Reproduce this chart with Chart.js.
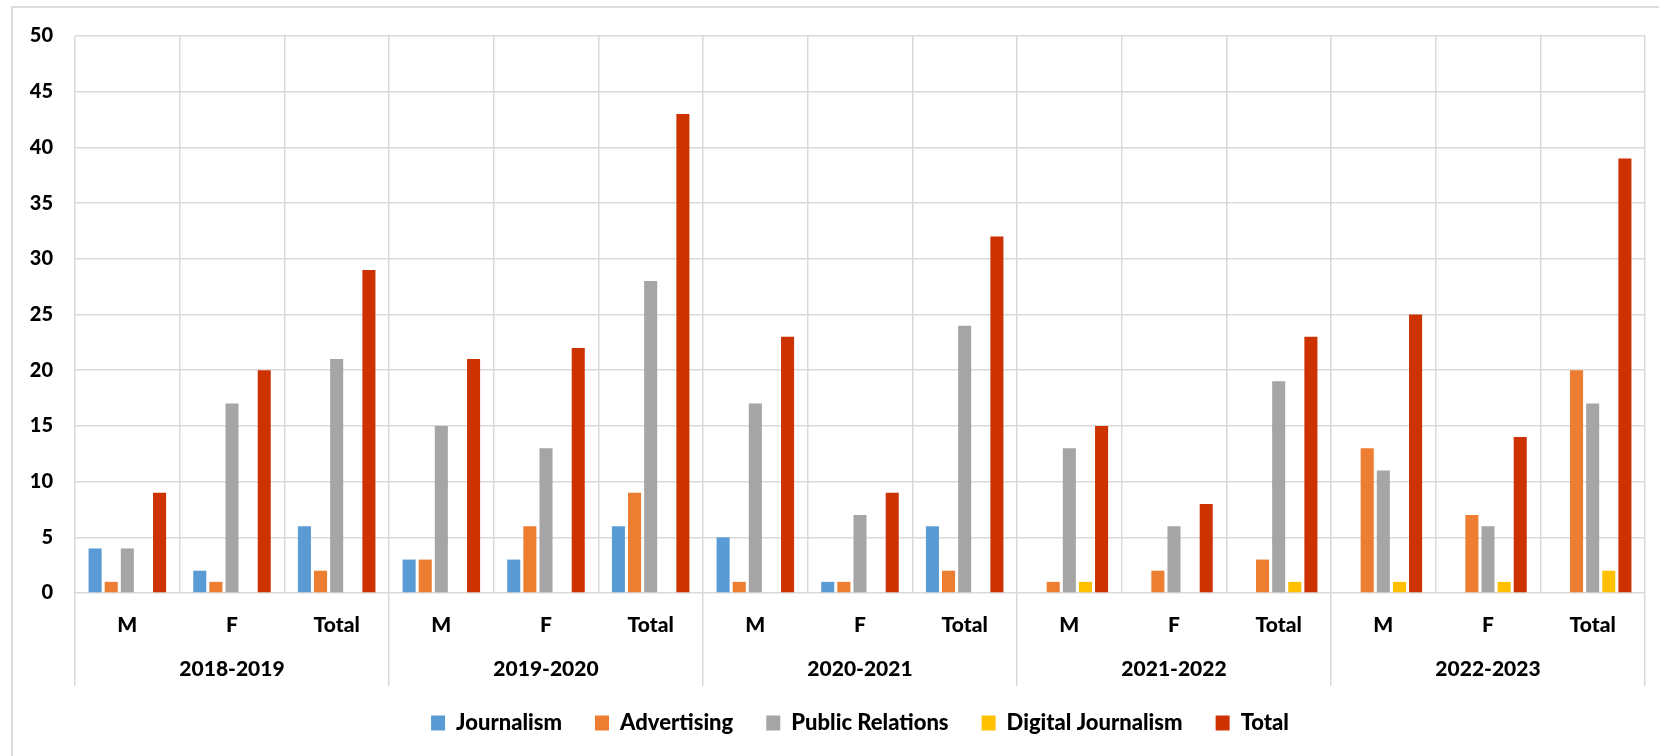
<!DOCTYPE html>
<html>
<head>
<meta charset="utf-8">
<script src="https://cdn.jsdelivr.net/npm/chart.js@4.4.1/dist/chart.umd.min.js"></script>
<style>
  html, body { margin: 0; padding: 0; background: #ffffff; overflow: hidden; }
  #frame { position: absolute; left: 11px; top: 6px; width: 1700px; height: 800px;
           border-left: 2px solid #dcdcdc; border-top: 2px solid #dcdcdc; box-sizing: border-box; }
  #wrap { position: absolute; left: 0; top: 0; width: 1659px; height: 744px; }
</style>
</head>
<body>
<div id="frame"></div>
<div id="wrap"><canvas id="c"></canvas></div>
<script>
// ---- data ----
const groups = ['2018-2019', '2019-2020', '2020-2021', '2021-2022', '2022-2023'];
const subLabels = ['M', 'F', 'Total', 'M', 'F', 'Total', 'M', 'F', 'Total', 'M', 'F', 'Total', 'M', 'F', 'Total'];
const journalism        = [4, 2, 6,   3, 3, 6,   5, 1, 6,   0, 0, 0,   0, 0, 0];
const advertising       = [1, 1, 2,   3, 6, 9,   1, 1, 2,   1, 2, 3,   13, 7, 20];
const publicRelations   = [4, 17, 21, 15, 13, 28, 17, 7, 24, 13, 6, 19, 11, 6, 17];
const digitalJournalism = [0, 0, 0,   0, 0, 0,   0, 0, 0,   1, 0, 1,   1, 1, 2];
const totals            = [9, 20, 29, 21, 22, 43, 23, 9, 32, 15, 8, 23, 25, 14, 39];
const yTicks = [0, 5, 10, 15, 20, 25, 30, 35, 40, 45, 50];

const FONT = 'Lato, "Open Sans", "DejaVu Sans", sans-serif';
const WEIGHT = 900;
const GRID = '#d9d9d9';
const TXT = '#000000';

function ds(label, data, color) {
  return { label, data, backgroundColor: color, borderWidth: 0,
           barPercentage: 0.81, categoryPercentage: 0.77 };
}

new Chart(document.getElementById('c'), {
  type: 'bar',
  data: {
    labels: subLabels,
    datasets: [
      ds('Journalism', journalism, '#5b9bd5'),
      ds('Advertising', advertising, '#ed7d31'),
      ds('Public Relations', publicRelations, '#a5a5a5'),
      ds('Digital Journalism', digitalJournalism, '#ffc000'),
      ds('Total', totals, '#cc3300')
    ]
  },
  options: {
    responsive: true,
    maintainAspectRatio: false,
    animation: false,
    layout: { padding: { left: 0, top: 36, right: 14, bottom: 0 } },
    plugins: {
      tooltip: { enabled: false },
      legend: {
        position: 'bottom',
        fullSize: false,
        labels: {
          boxWidth: 14, boxHeight: 15, padding: 33, color: TXT,
          font: { family: FONT, size: 22, weight: WEIGHT }
        }
      }
    },
    scales: {
      x: {
        type: 'category',
        offset: true,
        grid: {
          offset: true, drawOnChartArea: true, color: GRID, lineWidth: 1.5,
          drawTicks: true, tickLength: 93, tickWidth: 1.5,
          tickColor: (ctx) => (ctx.index === undefined || ctx.index % 3 === 0) ? GRID : 'rgba(0,0,0,0)'
        },
        border: { display: false },
        ticks: { color: TXT, font: { family: FONT, size: 21, weight: WEIGHT },
                 padding: -73, maxRotation: 0, autoSkip: false },
        afterFit: (s) => { s.height = 50; }
      },
      x2: {
        type: 'category',
        labels: groups,
        position: 'bottom',
        offset: true,
        grid: { display: false, drawTicks: false },
        border: { display: false },
        ticks: { color: TXT, font: { family: FONT, size: 21, weight: WEIGHT },
                 padding: 14, maxRotation: 0, autoSkip: false },
        afterFit: (s) => { s.height = 36; }
      },
      y: {
        min: 0, max: 50,
        afterBuildTicks: (s) => { s.ticks = yTicks.map(v => ({ value: v })); },
        grid: { color: GRID, lineWidth: 1.5, drawTicks: false },
        border: { display: false },
        ticks: { color: TXT, font: { family: FONT, size: 20, weight: WEIGHT }, padding: 22 },
        afterFit: (s) => { s.width = 75; }
      }
    }
  }
});
</script>
</body>
</html>
